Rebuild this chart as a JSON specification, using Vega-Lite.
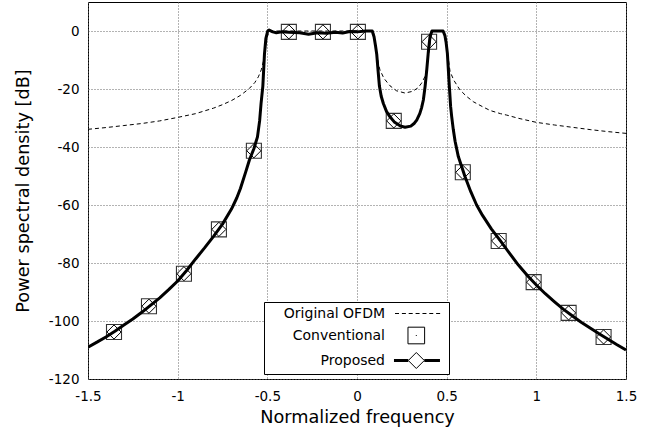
{
  "$schema": "https://vega.github.io/schema/vega-lite/v6.json",
  "width": 538,
  "height": 377,
  "autosize": {"type": "none"},
  "padding": {"left": 88, "top": 2, "right": 35, "bottom": 55},
  "background": "white",
  "config": {
    "font": "DejaVu Sans",
    "view": {"stroke": "black", "strokeWidth": 1},
    "axis": {
      "grid": true,
      "gridColor": "#666666",
      "gridDash": [1, 2],
      "gridWidth": 1,
      "ticks": false,
      "tickSize": 0,
      "domain": false,
      "labelFont": "DejaVu Sans",
      "labelFontSize": 13.5,
      "labelColor": "black",
      "labelFlush": false,
      "labelOverlap": false,
      "titleFont": "DejaVu Sans",
      "titleFontSize": 17.7,
      "titleFontWeight": "normal",
      "titleColor": "black"
    }
  },
  "datasets": {
    "proposed": [
      {"x": -1.5, "y": -109}, {"x": -1.45, "y": -107.3}, {"x": -1.4, "y": -105.5}, {"x": -1.35, "y": -103.5},
      {"x": -1.3, "y": -101.4}, {"x": -1.25, "y": -99.3}, {"x": -1.2, "y": -97}, {"x": -1.15, "y": -94.5},
      {"x": -1.1, "y": -92}, {"x": -1.05, "y": -89.2}, {"x": -1.0, "y": -86.2}, {"x": -0.95, "y": -82.6},
      {"x": -0.9, "y": -78.6}, {"x": -0.85, "y": -74.8}, {"x": -0.8, "y": -70.8}, {"x": -0.75, "y": -66.6},
      {"x": -0.7, "y": -61.4}, {"x": -0.67, "y": -57.5}, {"x": -0.65, "y": -54.3}, {"x": -0.62, "y": -48.5},
      {"x": -0.6, "y": -44.5}, {"x": -0.575, "y": -40.6},
      {"x": -0.555, "y": -36.5}, {"x": -0.543, "y": -31}, {"x": -0.535, "y": -25}, {"x": -0.525, "y": -19},
      {"x": -0.516, "y": -8}, {"x": -0.508, "y": -2.5}, {"x": -0.498, "y": 0}, {"x": -0.49, "y": 0.3},
      {"x": -0.47, "y": -0.3}, {"x": -0.45, "y": -0.6}, {"x": -0.42, "y": -0.3}, {"x": -0.38, "y": -0.4},
      {"x": -0.32, "y": -0.6}, {"x": -0.27, "y": -1.1}, {"x": -0.22, "y": -0.6}, {"x": -0.17, "y": -0.8},
      {"x": -0.12, "y": -0.4}, {"x": -0.08, "y": -0.7}, {"x": -0.04, "y": -0.2}, {"x": 0.0, "y": -0.3},
      {"x": 0.05, "y": 0}, {"x": 0.085, "y": 0}, {"x": 0.095, "y": -2}, {"x": 0.103, "y": -5},
      {"x": 0.11, "y": -8}, {"x": 0.118, "y": -14}, {"x": 0.125, "y": -19}, {"x": 0.135, "y": -22.5},
      {"x": 0.147, "y": -25}, {"x": 0.165, "y": -27.8}, {"x": 0.184, "y": -29.6}, {"x": 0.21, "y": -31.5},
      {"x": 0.24, "y": -32.7}, {"x": 0.268, "y": -33.2}, {"x": 0.3, "y": -32.8}, {"x": 0.32, "y": -31.8},
      {"x": 0.333, "y": -30.7}, {"x": 0.35, "y": -28.5}, {"x": 0.36, "y": -26.5}, {"x": 0.37, "y": -23.8},
      {"x": 0.38, "y": -19}, {"x": 0.389, "y": -13.4}, {"x": 0.398, "y": -7}, {"x": 0.407, "y": -2},
      {"x": 0.418, "y": 0}, {"x": 0.48, "y": 0}, {"x": 0.49, "y": -1.5}, {"x": 0.497, "y": -4},
      {"x": 0.504, "y": -7.7}, {"x": 0.515, "y": -19.2}, {"x": 0.522, "y": -26}, {"x": 0.528, "y": -29.5},
      {"x": 0.537, "y": -34}, {"x": 0.547, "y": -38}, {"x": 0.565, "y": -43.3}, {"x": 0.602, "y": -50.2},
      {"x": 0.635, "y": -55.5}, {"x": 0.667, "y": -60}, {"x": 0.7, "y": -63.6}, {"x": 0.75, "y": -68.3},
      {"x": 0.8, "y": -72.4}, {"x": 0.85, "y": -76.6}, {"x": 0.9, "y": -80.7}, {"x": 0.95, "y": -84.3},
      {"x": 1.0, "y": -87.6}, {"x": 1.05, "y": -90.6}, {"x": 1.1, "y": -93.3}, {"x": 1.15, "y": -95.9},
      {"x": 1.2, "y": -98.2}, {"x": 1.25, "y": -100.4}, {"x": 1.3, "y": -102.4}, {"x": 1.35, "y": -104.4},
      {"x": 1.4, "y": -106.3}, {"x": 1.45, "y": -108.2}, {"x": 1.5, "y": -110}
    ],
    "original": [
      {"x": -1.5, "y": -33.9}, {"x": -1.4, "y": -33.3}, {"x": -1.3, "y": -32.6}, {"x": -1.2, "y": -31.9},
      {"x": -1.1, "y": -31}, {"x": -1.0, "y": -29.8}, {"x": -0.9, "y": -28.5}, {"x": -0.8, "y": -26.6},
      {"x": -0.75, "y": -25.4}, {"x": -0.7, "y": -24}, {"x": -0.65, "y": -22.2}, {"x": -0.6, "y": -19.8},
      {"x": -0.57, "y": -17.8}, {"x": -0.55, "y": -15.8}, {"x": -0.534, "y": -13.4}, {"x": -0.52, "y": -10},
      {"x": -0.51, "y": -6}, {"x": -0.5, "y": -2}, {"x": -0.49, "y": 0}, {"x": 0.09, "y": 0},
      {"x": 0.1, "y": -3}, {"x": 0.11, "y": -8}, {"x": 0.12, "y": -11.5}, {"x": 0.128, "y": -13.4},
      {"x": 0.15, "y": -16.3}, {"x": 0.184, "y": -18.9}, {"x": 0.22, "y": -20.6}, {"x": 0.268, "y": -21.4},
      {"x": 0.31, "y": -20.8}, {"x": 0.34, "y": -19.6}, {"x": 0.36, "y": -18}, {"x": 0.379, "y": -15.7},
      {"x": 0.39, "y": -12.5}, {"x": 0.4, "y": -8}, {"x": 0.41, "y": -3}, {"x": 0.42, "y": 0},
      {"x": 0.48, "y": 0}, {"x": 0.49, "y": -2}, {"x": 0.5, "y": -6}, {"x": 0.51, "y": -10},
      {"x": 0.519, "y": -14}, {"x": 0.54, "y": -17}, {"x": 0.574, "y": -20.3}, {"x": 0.61, "y": -22.5},
      {"x": 0.649, "y": -24.4}, {"x": 0.7, "y": -26.1}, {"x": 0.742, "y": -27.4}, {"x": 0.8, "y": -28.5},
      {"x": 0.835, "y": -29}, {"x": 0.9, "y": -30.1}, {"x": 1.0, "y": -31.5}, {"x": 1.1, "y": -32.4},
      {"x": 1.2, "y": -33.2}, {"x": 1.3, "y": -34}, {"x": 1.4, "y": -34.7}, {"x": 1.5, "y": -35.3}
    ],
    "markers": [
      {"series": "Conventional", "x": -1.355, "y": -103.8}, {"series": "Conventional", "x": -1.16, "y": -94.9},
      {"series": "Conventional", "x": -0.965, "y": -83.7}, {"series": "Conventional", "x": -0.77, "y": -68.4},
      {"series": "Conventional", "x": -0.575, "y": -41.3}, {"series": "Conventional", "x": -0.38, "y": -0.3},
      {"series": "Conventional", "x": -0.19, "y": -0.3}, {"series": "Conventional", "x": 0.005, "y": -0.3},
      {"series": "Conventional", "x": 0.205, "y": -31}, {"series": "Conventional", "x": 0.402, "y": -3.7},
      {"series": "Conventional", "x": 0.59, "y": -48.7}, {"series": "Conventional", "x": 0.79, "y": -72.4},
      {"series": "Conventional", "x": 0.985, "y": -86.6}, {"series": "Conventional", "x": 1.18, "y": -97.2},
      {"series": "Conventional", "x": 1.375, "y": -105.5},
      {"series": "Proposed", "x": -1.355, "y": -103.8}, {"series": "Proposed", "x": -1.16, "y": -94.9},
      {"series": "Proposed", "x": -0.965, "y": -83.7}, {"series": "Proposed", "x": -0.77, "y": -68.4},
      {"series": "Proposed", "x": -0.575, "y": -41.3}, {"series": "Proposed", "x": -0.38, "y": -0.3},
      {"series": "Proposed", "x": -0.19, "y": -0.3}, {"series": "Proposed", "x": 0.005, "y": -0.3},
      {"series": "Proposed", "x": 0.205, "y": -31}, {"series": "Proposed", "x": 0.402, "y": -3.7},
      {"series": "Proposed", "x": 0.59, "y": -48.7}, {"series": "Proposed", "x": 0.79, "y": -72.4},
      {"series": "Proposed", "x": 0.985, "y": -86.6}, {"series": "Proposed", "x": 1.18, "y": -97.2},
      {"series": "Proposed", "x": 1.375, "y": -105.5}
    ]
  },
  "encoding": {
    "x": {
      "field": "x",
      "type": "quantitative",
      "scale": {"domain": [-1.5, 1.5], "nice": false, "zero": false},
      "axis": {
        "title": "Normalized frequency",
        "values": [-1.5, -1, -0.5, 0, 0.5, 1, 1.5],
        "labelExpr": "replace(format(datum.value, '~g'), '\u2212', '-')",
        "labelPadding": 10,
        "titlePadding": 6
      }
    },
    "y": {
      "field": "y",
      "type": "quantitative",
      "scale": {"domain": [-120, 10], "nice": false, "zero": false},
      "axis": {
        "title": "Power spectral density [dB]",
        "values": [-120, -100, -80, -60, -40, -20, 0],
        "labelExpr": "replace(format(datum.value, '~g'), '\u2212', '-')",
        "labelPadding": 9,
        "titlePadding": 16
      }
    }
  },
  "layer": [
    {
      "data": {"name": "original"},
      "mark": {"type": "line", "color": "black", "strokeWidth": 1, "strokeDash": [4, 3], "clip": true}
    },
    {
      "data": {"name": "markers"},
      "transform": [{"filter": "datum.series === 'Conventional'"}],
      "mark": {"type": "point", "shape": "square", "size": 225, "filled": false, "color": "#333333", "strokeWidth": 1.1, "opacity": 1}
    },
    {
      "data": {"name": "proposed"},
      "mark": {"type": "line", "color": "black", "strokeWidth": 3, "strokeJoin": "round", "clip": true}
    },
    {
      "data": {"name": "markers"},
      "transform": [{"filter": "datum.series === 'Proposed'"}],
      "mark": {"type": "point", "shape": "diamond", "size": 200, "filled": false, "color": "black", "strokeWidth": 1, "opacity": 1}
    },
    {
      "data": {"name": "markers"},
      "mark": {"type": "point", "filled": false, "color": "black", "strokeWidth": 1, "opacity": 0},
      "encoding": {
        "shape": {
          "field": "series",
          "type": "nominal",
          "scale": {
            "domain": ["Original OFDM", "Conventional", "Proposed"],
            "range": [
              "M14.94,0L15.44,0M15.8,0L16.3,0M16.65,0L17.15,0M17.51,0L18.01,0M18.37,0L18.87,0M19.22,0L19.72,0M20.08,0L20.58,0M21.0,0",
              "M16.56,-1.04L18.64,-1.04L18.64,1.04L16.56,1.04ZM17.54,0L17.66,0",
              "M14.81,-0.125L16.6,-0.125M14.81,0L16.6,0M14.81,0.125L16.6,0.125M18.6,-0.125L20.56,-0.125M18.6,0L20.56,0M18.6,0.125L20.56,0.125M16.6,0L17.6,-1L18.6,0L17.6,1Z"
            ]
          },
          "legend": {
            "orient": "none",
            "legendX": 176,
            "legendY": 300,
            "title": null,
            "padding": 3,
            "strokeColor": "black",
            "fillColor": "white",
            "labelAlign": "right",
            "labelBaseline": "middle",
            "labelOffset": 101,
            "labelFont": "DejaVu Sans",
            "labelFontSize": 14,
            "labelColor": "black",
            "labelLimit": 0,
            "symbolSize": 256,
            "symbolStrokeColor": "black",
            "symbolStrokeWidth": 1,
            "symbolOpacity": 1,
            "rowPadding": 4
          }
        }
      }
    }
  ]
}
